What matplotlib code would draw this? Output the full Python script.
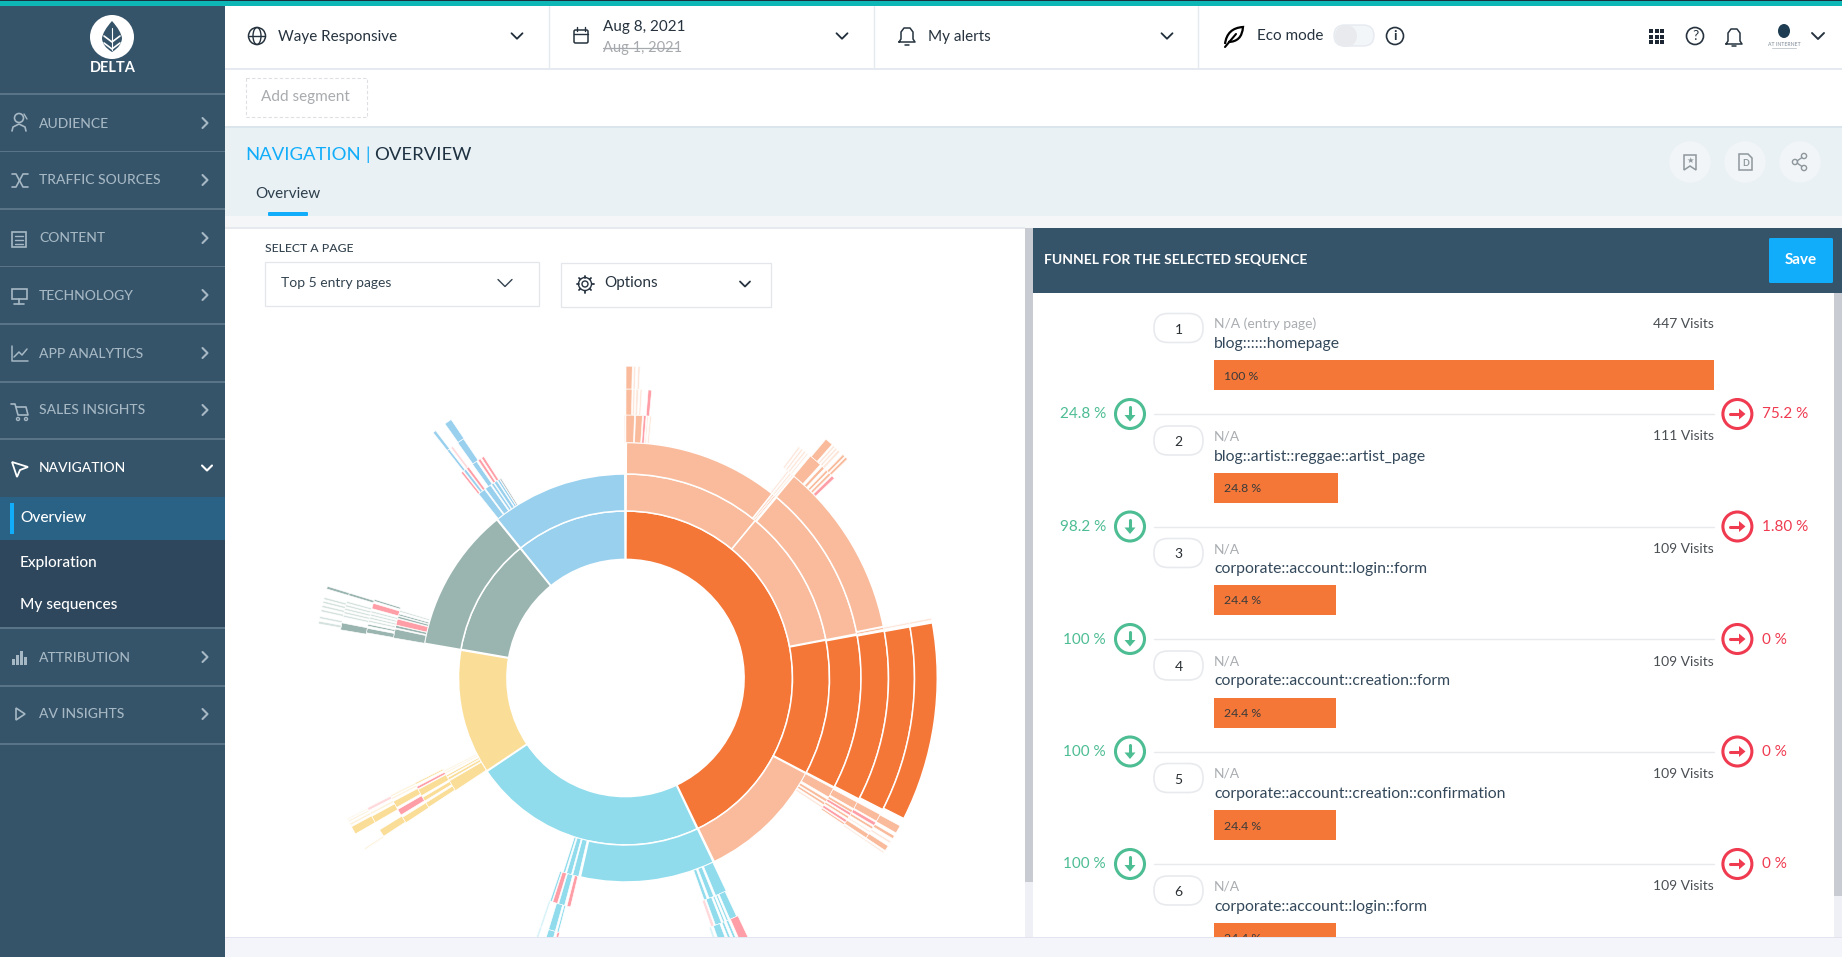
import numpy as np
import matplotlib
matplotlib.use("Agg")
import matplotlib.pyplot as plt
from matplotlib.patches import Rectangle, Circle, FancyBboxPatch, Ellipse, Polygon, PathPatch
from matplotlib.path import Path

W, H = 1842, 957
plt.rcParams['font.family'] = ['Lato', 'DejaVu Sans']

# ---------- data ----------
menu_items = ["AUDIENCE", "TRAFFIC SOURCES", "CONTENT", "TECHNOLOGY", "APP ANALYTICS", "SALES INSIGHTS"]
sub_items = ["Overview", "Exploration", "My sequences"]
lower_items = ["ATTRIBUTION", "AV INSIGHTS"]

funnel_steps = [1, 2, 3, 4, 5, 6]
funnel_previous = ["N/A (entry page)", "N/A", "N/A", "N/A", "N/A", "N/A"]
funnel_pages = ["blog::::::homepage", "blog::artist::reggae::artist_page", "corporate::account::login::form",
                "corporate::account::creation::form", "corporate::account::creation::confirmation",
                "corporate::account::login::form"]
funnel_visits = [447, 111, 109, 109, 109, 109]
funnel_pct = [100, 24.8, 24.4, 24.4, 24.4, 24.4]
continue_labels = ["24.8 %", "98.2 %", "100 %", "100 %", "100 %"]
exit_labels = ["75.2 %", "1.80 %", "0 %", "0 %", "0 %"]

ring_radii = [118.6, 167, 204, 235.5, 263, 289, 311.8]

# (depth, start angle, end angle) clockwise from 12 o'clock
orange_arcs = [(0, 0.2, 154.3), (1, 79.3, 117.7), (2, 79.5, 117.6), (3, 79.7, 117.4), (4, 79.8, 117.1), (5, 79.8, 116.8)]
peach_arcs = [(1, 0.2, 39.5), (1, 39.5, 79.1), (1, 117.9, 154.2), (2, 0.2, 38.5), (2, 39.9, 79.2), (3, 39.8, 78.7),
              (2, 118.0, 120.4), (2, 121.0, 121.7), (2, 122.0, 122.6), (3, 118.2, 119.8), (3, 120.2, 120.8), (3, 121.8, 122.3),
              (3, 123.5, 123.9), (4, 118.2, 119.7), (4, 121.0, 121.5), (4, 122.7, 123.6), (5, 118.3, 119.8), (5, 120.4, 121.0),
              (5, 122.6, 123.6), (2, 38.7, 39.0), (2, 39.2, 39.5),
              (3, 0.1, 1.95), (3, 2.2, 3.7), (4, 0.1, 1.3), (5, 0.1, 1.25),
              (4, 39.8, 42.4), (4, 42.9, 43.5), (4, 44.0, 44.5), (4, 44.8, 45.3), (5, 40.0, 41.5), (5, 44.2, 44.7), (5, 44.9, 45.4),
              (3, 78.9, 79.3)]
peach_pale = [(3, 38.0, 38.4), (3, 38.7, 39.1), (3, 39.3, 39.6), (4, 36.8, 37.2), (4, 37.5, 37.9), (4, 38.2, 38.6), (4, 38.9, 39.2),
              (5, 41.8, 42.2), (5, 42.4, 42.8), (5, 43.0, 43.5), (3, 4.7, 5.0), (3, 5.3, 5.7), (4, 1.5, 1.9), (4, 2.1, 2.6), (4, 2.9, 3.3),
              (5, 1.5, 1.9), (5, 2.3, 2.7), (2, 123.0, 123.5), (4, 122.0, 122.3), (4, 123.9, 124.2), (5, 123.9, 124.2),
              (4, 78.9, 79.3), (5, 78.9, 79.3), (3, 359.7, 359.95), (5, 121.6, 122.0)]
peach_pink = [(3, 3.95, 4.5), (4, 4.5, 5.2), (4, 45.6, 46.3), (3, 120.9, 121.5), (3, 122.7, 123.3), (4, 120.0, 120.7)]

cyan_arcs = [(0, 154.6, 236.0), (1, 154.5, 192.8), (1, 193.3, 195.0), (1, 195.4, 196.8), (1, 197.2, 197.8),
             (2, 195.0, 196.5), (2, 198.2, 198.7), (3, 195.5, 197.0), (3, 194.7, 195.1), (4, 195.5, 197.0),
             (2, 154.7, 157.5), (2, 158.0, 159.2), (2, 159.7, 160.5),
             (3, 155.0, 156.6), (3, 157.0, 157.4), (3, 157.8, 158.2), (3, 158.6, 160.0),
             (4, 157.0, 157.5), (4, 158.0, 158.5), (4, 159.0, 160.5)]
cyan_pale = [(3, 198.5, 199.0), (4, 198.5, 199.0), (4, 161.0, 161.5)]
cyan_pink = [(2, 193.5, 194.4), (2, 196.8, 198.0), (4, 194.5, 195.0), (4, 154.7, 156.5)]
cyan_softpink = [(3, 160.3, 161.0)]

yellow_arcs = [(0, 236.2, 279.6), (1, 236.5, 239.7), (1, 240.0, 240.7), (1, 241.0, 241.5),
               (2, 236.7, 238.0), (2, 238.5, 239.5), (2, 240.0, 241.7), (2, 243.1, 243.5),
               (3, 236.6, 238.0), (3, 240.5, 242.0), (4, 236.8, 238.3), (4, 240.0, 241.4), (5, 240.0, 241.5)]
yellow_pale = [(1, 242.0, 242.4), (1, 242.6, 243.0), (3, 242.5, 242.9), (3, 243.1, 243.5), (4, 241.8, 242.2), (5, 236.6, 236.9),
               (5, 241.8, 242.2), (5, 242.5, 242.8), (5, 243.0, 243.2)]
yellow_pink = [(2, 241.9, 242.5), (3, 238.6, 240.0)]
yellow_softpink = [(4, 242.7, 243.3)]

grey_arcs = [(0, 279.9, 320.9), (1, 279.8, 320.9), (2, 279.8, 282.0), (2, 282.3, 282.9), (2, 284.7, 285.2), (2, 285.4, 285.8),
             (3, 279.9, 280.9), (3, 281.4, 281.8), (3, 287.0, 287.4), (4, 279.6, 281.0), (4, 286.6, 287.1), (5, 286.6, 287.1)]
grey_pale = [(3, 282.3, 282.7), (3, 283.0, 283.4), (3, 283.7, 284.1), (3, 284.4, 284.8), (4, 282.2, 282.6), (4, 282.9, 283.3),
             (4, 283.6, 284.0), (4, 284.3, 284.7), (4, 285.0, 285.4), (5, 280.0, 280.5), (5, 281.0, 281.4), (5, 282.3, 282.7),
             (5, 283.1, 283.5), (5, 283.9, 284.3), (5, 284.6, 285.0), (2, 286.3, 286.7)]
grey_pink = [(2, 283.0, 284.5), (3, 285.3, 286.5)]

blue_arcs = [(0, 321.1, 359.8), (1, 321.1, 359.8), (2, 321.4, 323.2), (2, 323.5, 325.0), (2, 325.3, 325.9), (2, 326.1, 326.9), (2, 327.1, 327.6),
             (3, 322.0, 322.6), (3, 324.4, 325.5), (4, 321.9, 322.4), (4, 324.5, 325.9), (5, 321.9, 322.5), (5, 324.6, 326.0)]
blue_softpink = [(4, 322.8, 323.3)]
blue_pink = [(3, 321.3, 321.8), (3, 322.8, 323.4), (3, 325.9, 326.5), (3, 326.8, 327.4)]
blue_grey = [(2, 327.7, 328.1)]

ORANGE, PEACH, CYAN, YELLOW, GREY, BLUE, PINK = '#F47738', '#F9BB9C', '#90DCEC', '#FADD97', '#9AB4AF', '#98D0EE', '#FF9EA6'
PALE_PEACH, PALE_CYAN, PALE_YELLOW, PALE_GREY, SOFT_PINK = '#FDE6DA', '#D9F3F8', '#FDF1D8', '#D5E2DF', '#FFD9DC'

NAVY = '#355369'
SKY = '#12ADFA'
BAR = '#F47738'
GRN = '#4DBD93'
RED = '#EF3A50'
MUTED = '#A6B8C4'
INK = '#33485A'

fig = plt.figure(figsize=(W / 100, H / 100), dpi=100, facecolor='white')
ax = fig.add_axes([0, 0, 1, 1], zorder=0)
ax.set_xlim(0, W); ax.set_ylim(H, 0); ax.axis('off')


def box(x0, y0, x1, y1, fc, ec='none', lw=0, z=1, a=ax, **kw):
    a.add_patch(Rectangle((x0, y0), x1 - x0, y1 - y0, fc=fc, ec=ec, lw=lw, zorder=z, **kw))


def txt(x, y, s, size, color=INK, ha='left', weight='normal', a=ax, z=5, **kw):
    return a.text(x, y + 1.5, s, fontsize=size, color=color, ha=ha, va='center', fontweight=weight, zorder=z, **kw)


def line(xs, ys, color=INK, lw=1.0, z=4, a=ax, **kw):
    a.plot(xs, ys, color=color, lw=lw, zorder=z, solid_capstyle='round', solid_joinstyle='round', **kw)


def chev_down(x, y, s=5, color='#1F2D3A', lw=1.3):
    line([x - s, x, x + s], [y - s * .5, y + s * .5, y - s * .5], color, lw)


def chev_right(x, y, s=5, color=MUTED, lw=1.5):
    line([x - s * .5, x + s * .5, x - s * .5], [y - s, y, y + s], color, lw)


def ring(x, y, r, ec, lw=1.2, fc='none', z=4):
    ax.add_patch(Circle((x, y), r, fc=fc, ec=ec, lw=lw, zorder=z))


# ---------- page background ----------
box(0, 0, W, 1.2, '#1B3340', z=9)
box(0, 1.2, W, 6, '#0DB7B5', z=9)
box(0, 0, 225, H, NAVY)
box(225, 68, W, 69.5, '#E4EAEF')
for xs in (549, 874, 1198):
    line([xs, xs], [6, 67], '#E4EAEF', 1.0)
box(225, 126, W, 216, '#E9F1F4')
box(225, 126, W, 128, '#DBE6EC')
box(225, 216, W, 228, '#F4F6F8')
box(225, 227, 1025, 228.5, '#E6EAEE')

# ---------- sidebar ----------
ax.add_patch(Circle((112, 37), 22, fc='white', ec='none', zorder=3))
ax.add_patch(PathPatch(Path([(112, 21), (103, 31), (102, 38), (102, 46), (112, 52), (122, 46), (122, 38), (121, 31), (112, 21)],
                            [Path.MOVETO, Path.CURVE3, Path.CURVE3, Path.CURVE3, Path.CURVE3, Path.CURVE3, Path.CURVE3, Path.CURVE3, Path.CURVE3]),
                       fc=NAVY, ec='none', zorder=4))
line([104, 112, 120], [36, 42, 36], 'white', 1.2, z=5)
line([104, 112, 120], [43, 49, 43], 'white', 1.2, z=5)
line([112, 112], [28, 50], 'white', 0.8, z=5)
txt(113, 67, "DELTA", 10.5, 'white', ha='center', weight='bold')

sep = [94, 151.5, 209, 266.5, 324, 382, 439, 628, 686, 744]
for y in sep:
    box(0, y - .7, 225, y + .7, '#5A7487', z=2)
box(0, 497, 225, 540, '#2A6285', z=2)
box(0, 540, 225, 627, '#2F475C', z=2)
box(10, 503, 14, 534, SKY, z=3)

menu_y = [122, 179, 237, 294, 352, 409]
for lab, y in zip(menu_items, menu_y):
    txt(39, y, lab, 10, MUTED, weight='medium')
    chev_right(205, y + 1)
txt(39, 467, "NAVIGATION", 10, 'white', weight='medium')
chev_down(207, 468, 5, 'white', 1.5)
for lab, y in zip(sub_items, [517, 561, 604]):
    txt(20, y, lab, 11.1, 'white', weight='medium')
for lab, y in zip(lower_items, [656, 713]):
    txt(39, y, lab, 10, MUTED, weight='medium')
    chev_right(205, y + 1)

# sidebar icons
ring(19, 118, 4.5, MUTED, 1.2)
line([12, 13, 19, 25, 26], [131, 127, 124, 127, 131], MUTED, 1.2)
line([24, 27], [114, 119], MUTED, 1.0)
line([12, 16, 23, 28], [174, 174, 187, 187], MUTED, 1.2)
line([12, 16, 23, 28], [187, 187, 174, 174], MUTED, 1.2)
ax.add_patch(Rectangle((12, 232), 14, 15, fc='none', ec=MUTED, lw=1.2, zorder=4))
for dy in (236, 240, 244):
    line([15, 23], [dy, dy], MUTED, 1.0)
ax.add_patch(Rectangle((12, 289), 15, 10, fc='none', ec=MUTED, lw=1.2, zorder=4))
line([19, 19], [299, 304], MUTED, 1.2); line([14, 24], [304, 304], MUTED, 1.2)
line([12, 12, 28], [346, 361, 361], MUTED, 1.1)
line([14, 19, 22, 27], [357, 352, 355, 349], MUTED, 1.1)
line([11, 15, 18, 28, 26, 17], [404, 404, 415, 415, 407, 407], MUTED, 1.2)
ring(18, 419, 1.5, MUTED, 1); ring(26, 419, 1.5, MUTED, 1)
ax.add_patch(Polygon([(12, 462), (28, 467), (20, 470), (17, 477)], closed=True, fc='none', ec='white', lw=1.3, zorder=4))
for i, hh in enumerate([6, 10, 14, 8]):
    box(12 + i * 4, 665 - hh, 14.5 + i * 4, 665, MUTED, z=4)
ax.add_patch(Polygon([(16, 708), (25, 714), (16, 720)], closed=True, fc='none', ec=MUTED, lw=1.2, zorder=4))

# ---------- top bar ----------
TOP = '#26333F'
ring(257, 36, 8.5, TOP, 1.1)
ax.add_patch(Ellipse((257, 36), 8, 17, fc='none', ec=TOP, lw=1, zorder=4))
line([249, 265], [36, 36], TOP, 1)
txt(278, 35, "Waye Responsive", 11, TOP)
chev_down(517, 36, 5.5)
ax.add_patch(FancyBboxPatch((574, 30), 14, 13, boxstyle='round,pad=0,rounding_size=1.5', fc='none', ec=TOP, lw=1.1, zorder=4))
line([574, 588], [34, 34], TOP, 1); line([577, 577], [27, 31], TOP, 1); line([585, 585], [27, 31], TOP, 1)
txt(603, 25, "Aug 8, 2021", 11, TOP)
txt(603, 46.5, "Aug 1, 2021", 10.5, '#A6A9AD')
line([603, 678], [48, 48], '#A6A9AD', 0.9, z=6)
chev_down(842, 36, 5.5)
bx = 907
line([bx - 8, bx - 6, bx - 6, bx - 3, bx + 3, bx + 6, bx + 6, bx + 8, bx - 8], [42, 39, 32, 28, 28, 32, 39, 42, 42], TOP, 1.1)
line([bx - 2, bx + 2], [45, 45], TOP, 1.1)
txt(928, 35, "My alerts", 11, TOP)
chev_down(1167, 36, 5.5)
ax.add_patch(PathPatch(Path([(1225, 44), (1227, 28), (1243, 27), (1242, 42), (1228, 42)],
                            [Path.MOVETO, Path.CURVE3, Path.LINETO, Path.CURVE3, Path.LINETO]), fc='none', ec='black', lw=1.6, zorder=4))
line([1225, 1236], [47, 34], 'black', 1.5)
txt(1257, 35, "Eco mode", 11, TOP)
ax.add_patch(FancyBboxPatch((1334, 25), 40, 21, boxstyle='round,pad=0,rounding_size=10.5', fc='#F3F6F9', ec='#E6EAF0', lw=1, zorder=3))
ring(1346, 36, 11, 'none', 0, fc='#E8EAEE')
ring(1395, 36, 8.5, TOP, 1.2)
txt(1395, 35, "i", 10, TOP, ha='center', weight='bold')
for i in range(3):
    for j in range(3):
        box(1649 + i * 5.5, 29 + j * 5.5, 1653 + i * 5.5, 33 + j * 5.5, '#1D2733', z=4)
ring(1695, 36, 8.5, TOP, 1.2)
txt(1695, 35, "?", 10, TOP, ha='center')
bx = 1734
line([bx - 8, bx - 6, bx - 6, bx - 3, bx + 3, bx + 6, bx + 6, bx + 8, bx - 8], [44, 41, 33, 29, 29, 33, 41, 44, 44], TOP, 1.1)
line([bx - 2, bx + 2], [46, 46], TOP, 1.1)
ax.add_patch(Ellipse((1784, 31), 12, 14, fc='#1E3D52', ec='none', zorder=4))
txt(1784, 42.5, "AT INTERNET", 3.7, '#7A8794', ha='center')
line([1772, 1796], [48, 48], '#C8CDD2', 0.7)
chev_down(1818, 36, 6, '#26333F', 1.4)

# add segment
ax.add_patch(Rectangle((245.5, 77.5), 121, 39, fc='white', ec='#DDDFE2', lw=0.8, ls=(0, (3, 2)), zorder=3))
txt(261, 95.5, "Add segment", 11, '#A8ABAE')

# ---------- title band ----------
txt(245.5, 153, "NAVIGATION", 13.3, SKY)
txt(365.5, 153, "|", 13.3, SKY)
txt(374.5, 153, "OVERVIEW", 13.3, '#1F3242')
txt(255, 193, "Overview", 11, '#2E3F4D')
ax.add_patch(FancyBboxPatch((268, 212), 40, 4, boxstyle='round,pad=0,rounding_size=1', fc=SKY, ec='none', zorder=4))
for x in (1690, 1745, 1800):
    ring(x, 162, 20.7, 'none', 0, fc='#F1F5F7', z=3)
GI = '#8E979D'
ax.add_patch(Polygon([(1684, 155), (1696, 155), (1696, 170), (1690, 166), (1684, 170)], closed=True, fc='none', ec=GI, lw=1.1, zorder=4))
txt(1690, 159, "★", 6, GI, ha='center', family=['DejaVu Sans'])
ax.add_patch(Polygon([(1739, 154), (1748, 154), (1752, 158), (1752, 170), (1739, 170)], closed=True, fc='none', ec=GI, lw=1.1, zorder=4))
txt(1745.5, 162, "D", 6.5, GI, ha='center', weight='bold')
for (xa, ya) in [(1795, 162), (1804, 156), (1804, 168)]:
    ring(xa, ya, 2.6, GI, 1.0)
line([1797, 1802], [161, 157.5], GI, 1); line([1797, 1802], [163, 166.5], GI, 1)

# ---------- selectors ----------
txt(265, 246.5, "SELECT A PAGE", 8.8, '#33434F', weight='medium')
ax.add_patch(Rectangle((265, 262), 274, 44, fc='white', ec='#E3E7EB', lw=0.9, zorder=3))
txt(281, 281.5, "Top 5 entry pages", 10, '#33434F')
chev_down(505, 283, 7, '#33434F', 1.0)
ax.add_patch(Rectangle((561, 263), 210, 44, fc='white', ec='#E3E7EB', lw=0.9, zorder=3))
ring(585, 284, 3, TOP, 1.0)
ring(585, 284, 6.5, TOP, 1.0)
for ang in np.deg2rad(np.arange(0, 360, 45)):
    line([585 + 6.5 * np.cos(ang), 585 + 8.5 * np.cos(ang)], [284 + 6.5 * np.sin(ang), 284 + 8.5 * np.sin(ang)], TOP, 1.3)
txt(604, 282, "Options", 11, TOP)
chev_down(745, 284, 5, TOP, 1.3)

# ---------- scroll bars and funnel frame ----------
box(1025, 228, 1033, 882, '#C9CBD2', z=2)
box(1025, 882, 1033, 937, '#EEF0F6', z=2)
box(1033, 228, W, 293, NAVY, z=2)
box(1834, 293, W, 896, '#C9CBD2', z=2)
box(1834, 896, W, 937, '#EEF0F6', z=2)
txt(1044, 258, "FUNNEL FOR THE SELECTED SEQUENCE", 10, 'white', weight='bold')
ax.add_patch(FancyBboxPatch((1769, 238), 64, 45, boxstyle='round,pad=0,rounding_size=1.5', fc=SKY, ec='none', zorder=3))
txt(1801, 258, "Save", 11, 'white', ha='center', weight='bold')

# ---------- sunburst ----------
R = ring_radii[-1] + 1
pol = fig.add_axes([(625.5 - R) / W, 1 - (678 + R) / H, 2 * R / W, 2 * R / H], projection='polar', zorder=1)
pol.set_theta_zero_location('N'); pol.set_theta_direction(-1)
pol.patch.set_alpha(0); pol.axis('off')


def draw_arcs(arcs, color):
    for depth, start, end in arcs:
        lo, hi = ring_radii[depth], ring_radii[depth + 1]
        span = end - start
        lw = 1.1 if span > 5 else 0.45
        pol.bar(np.deg2rad((start + end) / 2), hi - lo, width=np.deg2rad(span), bottom=lo,
                color=color, edgecolor='white', linewidth=lw, align='center')


for arcs, col in [(orange_arcs, ORANGE), (peach_arcs, PEACH), (cyan_arcs, CYAN), (yellow_arcs, YELLOW), (grey_arcs, GREY), (blue_arcs, BLUE)]:
    draw_arcs(arcs, col)
for arcs, col in [(peach_pale, PALE_PEACH), (cyan_pale, PALE_CYAN), (yellow_pale, PALE_YELLOW), (grey_pale, PALE_GREY),
                  (blue_softpink, SOFT_PINK), (cyan_softpink, SOFT_PINK), (yellow_softpink, SOFT_PINK)]:
    draw_arcs(arcs, col)
for arcs in (peach_pink, cyan_pink, yellow_pink, grey_pink, blue_pink):
    draw_arcs(arcs, PINK)
draw_arcs(blue_grey, '#B9C2C4')
pol.set_ylim(0, R)

# ---------- funnel ----------
row_step = 112.5
row_ys = [375 + i * row_step for i in range(len(funnel_steps))]
fb = fig.add_axes([1214 / W, 0, 500 / W, 1], zorder=1)
fb.set_xlim(0, 100); fb.set_ylim(H, 0); fb.axis('off')
fb.barh(row_ys, funnel_pct, height=30, color=BAR, align='center')
for y, p in zip(row_ys, funnel_pct):
    fb.text(2, y + 1, f"{p:g} %", fontsize=8.8, color='#3A3A3A', va='center', clip_on=True)

for i, n in enumerate(funnel_steps):
    y = row_ys[i]
    ax.add_patch(FancyBboxPatch((1154, y - 61.5), 49, 29, boxstyle='round,pad=0,rounding_size=14', fc='white', ec='#E8EAED', lw=1.2, zorder=3))
    txt(1178.5, y - 47, str(n), 10, '#2A2F33', ha='center')
    txt(1214, y - 52.5, funnel_previous[i], 10, '#A9ADB1')
    txt(1214, y - 32.5, funnel_pages[i], 11.3, INK)
    txt(1714, y - 52.5, f"{funnel_visits[i]} Visits", 10, '#4A4F54', ha='right')

for i in range(5):
    y = 414 + i * row_step
    line([1154, 1714], [y, y], '#E8EAED', 1.0, z=2)
    ring(1130, y, 14.5, GRN, 2.2, fc='white')
    line([1130, 1130], [y - 7, y + 3], GRN, 2.2, z=5)
    ax.add_patch(Polygon([(1124.5, y + 1), (1135.5, y + 1), (1130, y + 7.5)], closed=True, fc=GRN, ec='none', zorder=5))
    ring(1737.4, y, 14.5, RED, 2.2, fc='white')
    line([1730, 1740], [y, y], RED, 2.2, z=5)
    ax.add_patch(Polygon([(1739, y - 5.5), (1739, y + 5.5), (1745.5, y)], closed=True, fc=RED, ec='none', zorder=5))
    txt(1106, y - 1, continue_labels[i], 11, GRN, ha='right')
    txt(1762, y - 1, exit_labels[i], 11, RED)

# ---------- footer strip over everything it hides ----------
top = fig.add_axes([0, 0, 1, 1], zorder=3)
top.set_xlim(0, W); top.set_ylim(H, 0); top.axis('off'); top.patch.set_alpha(0)
box(225, 937, W, H, '#F3F5FA', a=top, z=2)
box(225, 937, W, 938, '#E2E5EF', a=top, z=3)

fig.savefig('out.png', dpi=100)
